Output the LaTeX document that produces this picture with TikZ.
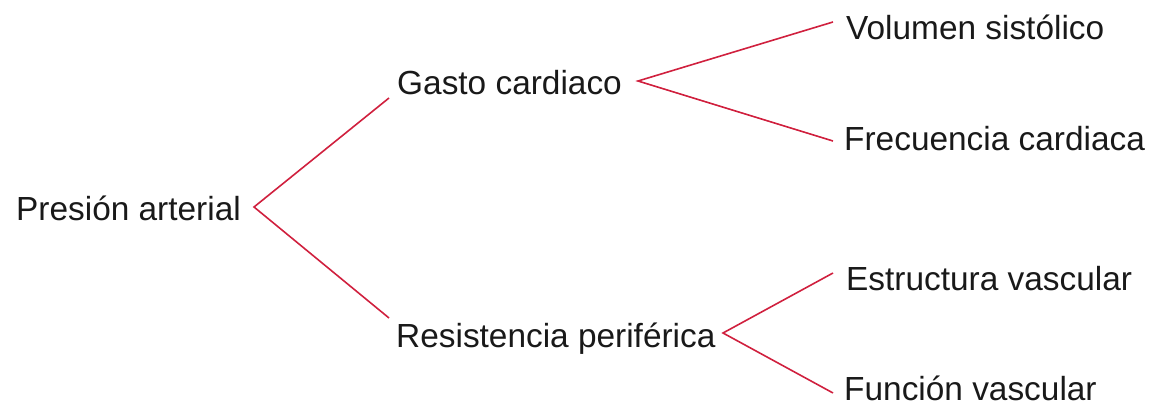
\documentclass[tikz,border=0pt]{standalone}
\usepackage{fontspec}
\setmainfont{Liberation Sans}
\definecolor{linkred}{RGB}{208,32,62}
\begin{document}
\begin{tikzpicture}[x=1pt,y=1pt,
  lbl/.style={inner sep=0pt, anchor=base west, font=\fontsize{33.4}{40}\selectfont, text=black!90},
  link/.style={draw=linkred, line width=1.6pt}]
\useasboundingbox (0,0) rectangle (1155,-406);
\node[lbl] (pa) at (16,-220) {Presión arterial};
\node[lbl] (gc) at (397,-95) {Gasto cardiaco};
\node[lbl] (rp) at (396,-347) {Resistencia periférica};
\node[lbl] (vs) at (846,-40) {Volumen sistólico};
\node[lbl] (fc) at (844,-151) {Frecuencia cardiaca};
\node[lbl] (ev) at (846,-290) {Estructura vascular};
\node[lbl] (fv) at (844,-400) {Función vascular};
\draw[link] ([shift={(-8,-3)}]gc.base west) -- ([shift={(238,13)}]pa.base west) -- ([shift={(-7,29)}]rp.base west);
\draw[link] ([shift={(-13,18)}]vs.base west) -- ([shift={(241,14)}]gc.base west) -- ([shift={(-11,10)}]fc.base west);
\draw[link] ([shift={(-13,17)}]ev.base west) -- ([shift={(327,14)}]rp.base west) -- ([shift={(-11,7)}]fv.base west);
\end{tikzpicture}
\end{document}
